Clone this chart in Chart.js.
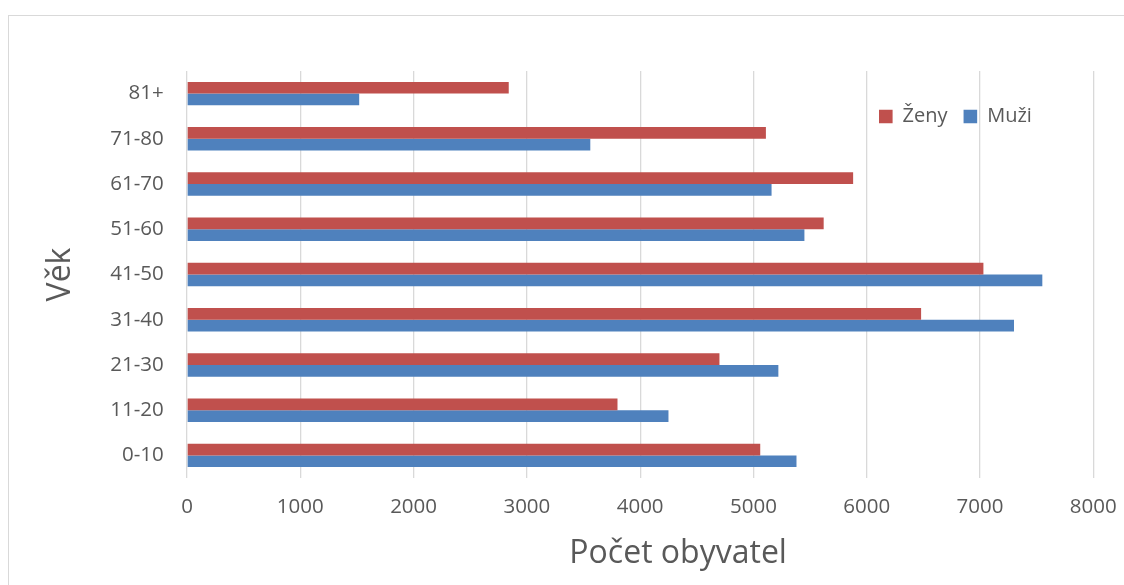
<!DOCTYPE html>
<html lang="cs">
<head>
<meta charset="utf-8">
<title>Počet obyvatel podle věku</title>
<script src="https://cdn.jsdelivr.net/npm/chart.js@4.4.1/dist/chart.umd.min.js"></script>
<style>
  html, body { margin: 0; padding: 0; background: #ffffff; overflow: hidden; }
  body { width: 1124px; height: 585px; position: relative; }
  .frame {
    position: absolute; left: 8px; top: 14.5px;
    width: 1200px; height: 700px;
    border: 1px solid #d9d9d9; box-sizing: border-box;
  }
  #chart { position: absolute; left: 0; top: 0; }
</style>
</head>
<body>
<div class="frame"></div>
<canvas id="chart" width="1124" height="585"></canvas>
<script>
// Age groups, youngest first (drawn bottom to top)
const ageGroups = ['0-10', '11-20', '21-30', '31-40', '41-50', '51-60', '61-70', '71-80', '81+'];
const zeny = [5060, 3800, 4700, 6480, 7030, 5620, 5880, 5110, 2840];
const muzi = [5380, 4250, 5220, 7300, 7550, 5450, 5160, 3560, 1520];
const seriesNames = ['Ženy', 'Muži'];
const xTicks = [0, 1000, 2000, 3000, 4000, 5000, 6000, 7000, 8000];

const FONT = '"Open Sans", "DejaVu Sans", sans-serif';
const TEXT = '#595959';
const GRID = '#d9d9d9';

// Legend sits inside the plot, the x-axis caption is offset to the right
const LEGEND_X = 879;
const LEGEND_Y = 106.5;
const CAPTION_SHIFT = 131.5;

const boxPlacement = {
  id: 'boxPlacement',
  afterLayout(chart) {
    const lg = chart.legend;
    if (lg) {
      const pad = lg.options.labels.padding;
      const w = lg.width, h = lg.height;
      lg.left = LEGEND_X - pad;
      lg.right = lg.left + w;
      lg.top = LEGEND_Y - pad;
      lg.bottom = lg.top + h;
    }
    const tb = chart.titleBlock;
    if (tb) {
      tb.left += CAPTION_SHIFT;
      tb.right += CAPTION_SHIFT;
    }
  }
};

new Chart(document.getElementById('chart'), {
  type: 'bar',
  data: {
    labels: ageGroups,
    datasets: [
      { label: seriesNames[0], data: zeny, backgroundColor: '#c0504d' },
      { label: seriesNames[1], data: muzi, backgroundColor: '#4f81bd' }
    ]
  },
  options: {
    indexAxis: 'y',
    responsive: false,
    animation: false,
    devicePixelRatio: 1,
    datasets: { bar: { categoryPercentage: 0.518, barPercentage: 1.0, borderWidth: 0 } },
    layout: { padding: { left: 0, right: 30.7, top: 25, bottom: 11.5 } },
    scales: {
      x: {
        type: 'linear',
        min: 0,
        max: 8000,
        afterBuildTicks: (scale) => { scale.ticks = xTicks.map(v => ({ value: v })); },
        afterFit: (scale) => {
          scale.height = 57.1;
          scale.paddingLeft = 0;
          scale.paddingRight = 0;
        },
        grid: { color: GRID, lineWidth: 1.3, drawTicks: false },
        border: { display: false },
        ticks: {
          color: TEXT,
          padding: 16.7,
          font: { family: FONT, size: 20.5 },
          callback: (value) => String(value)
        },
        title: { display: false }
      },
      y: {
        type: 'category',
        reverse: true,
        afterFit: (scale) => { scale.width = 187; },
        grid: { display: false, drawTicks: false },
        border: { display: false },
        ticks: { color: TEXT, padding: 23.3, font: { family: FONT, size: 20.5 } },
        title: {
          display: true,
          text: 'Věk',
          color: TEXT,
          font: { family: FONT, size: 32, lineHeight: 1.2 },
          padding: { top: 41.4, bottom: 0 }
        }
      }
    },
    plugins: {
      legend: {
        display: true,
        position: 'top',
        align: 'start',
        labels: {
          color: TEXT,
          boxWidth: 13.6,
          boxHeight: 13.6,
          padding: 16,
          font: { family: FONT, size: 20 }
        }
      },
      title: {
        display: true,
        position: 'bottom',
        align: 'center',
        text: 'Počet obyvatel',
        color: TEXT,
        font: { family: FONT, size: 32, lineHeight: 1.2, weight: 'normal' },
        padding: { top: 0, bottom: 0 }
      },
      tooltip: { enabled: false }
    }
  },
  plugins: [boxPlacement]
});
</script>
</body>
</html>
